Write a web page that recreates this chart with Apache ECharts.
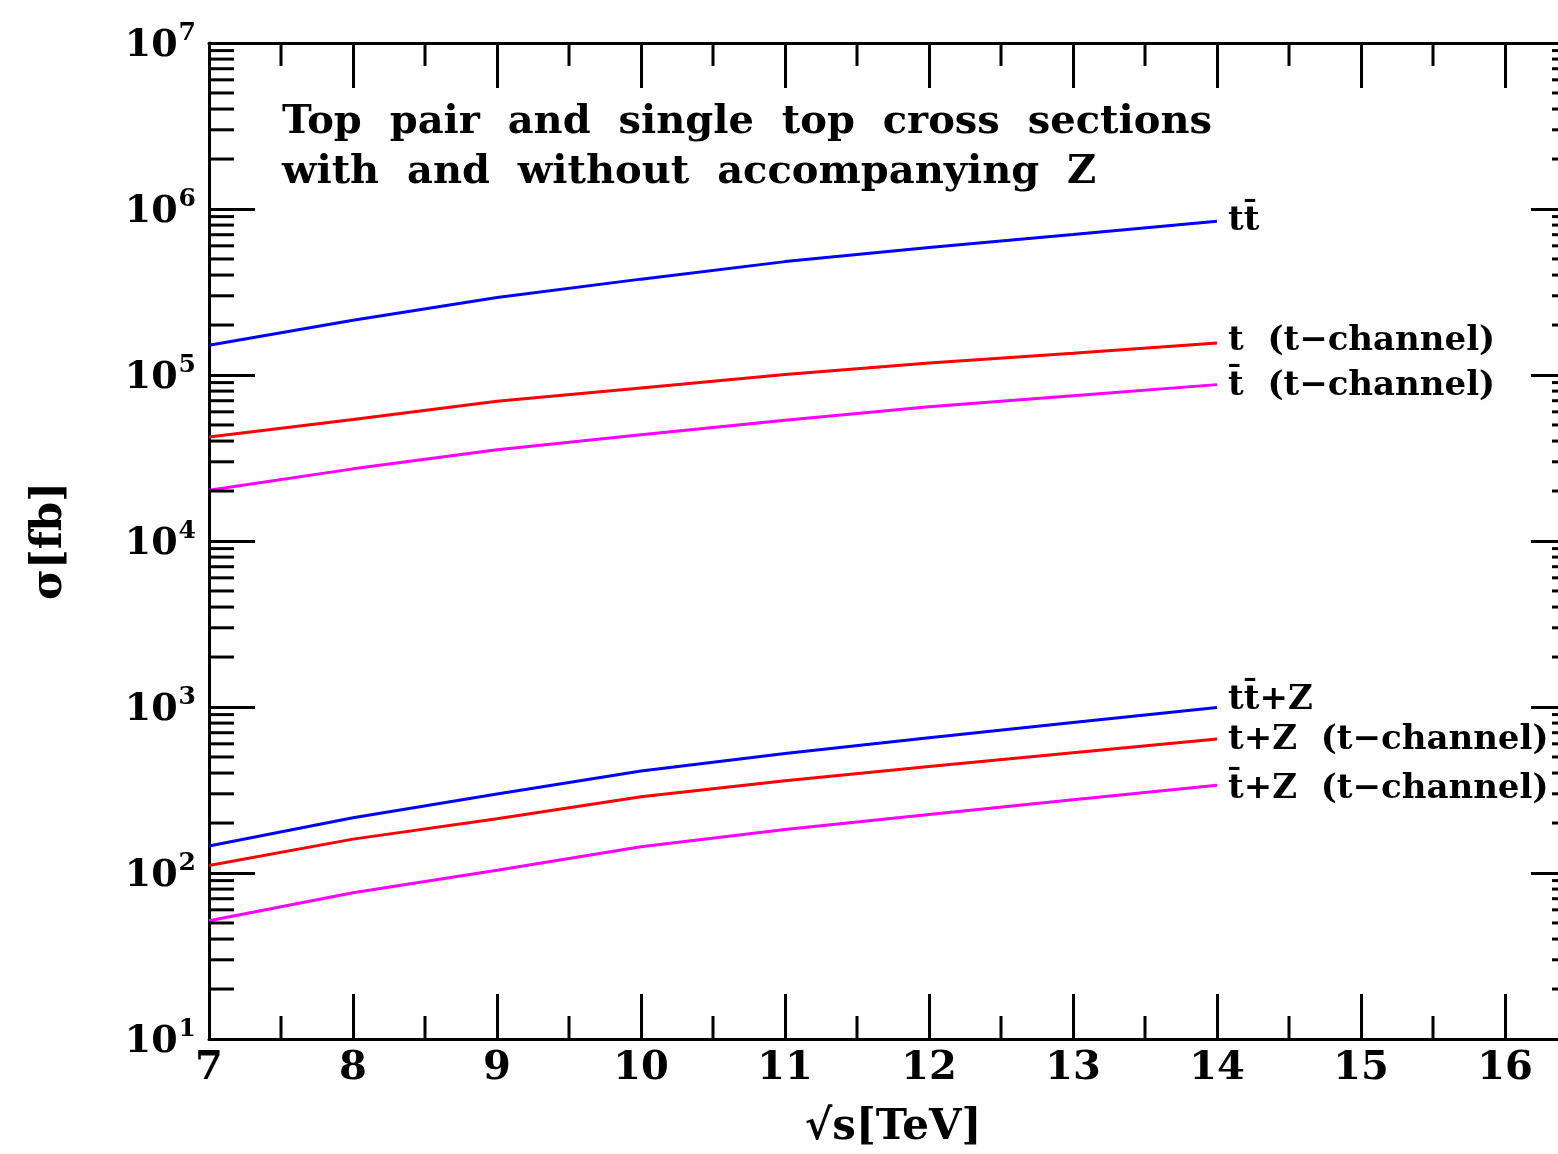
<!DOCTYPE html>
<html><head><meta charset="utf-8">
<script src="https://cdn.jsdelivr.net/npm/echarts@6/dist/echarts.min.js"></script>
<style>html,body{margin:0;padding:0;background:#fff;overflow:hidden;width:1558px;height:1154px}#c{width:1600px;height:1154px}</style>
</head><body><div id="c"></div>
<script>
const energies = [7, 8, 9, 10, 11, 12, 13, 14];
const ttbar      = [151000, 214000, 293000, 378000, 482000, 587000, 703000, 845000];
const tChan      = [42300, 54000, 69500, 83600, 100700, 118000, 135000, 156000];
const tbarChan   = [20200, 27200, 35500, 43700, 53300, 64400, 75000, 87500];
const ttbarZ     = [145.6, 215, 299, 411, 525, 653, 806, 993];
const tZ         = [111, 160, 212, 288, 359, 438, 530, 641];
const tbarZ      = [51.6, 76, 104, 144, 183, 225, 276, 338];
const seriesNames = ['tt\u0304', 't  (t\u2212channel)', 't\u0304  (t\u2212channel)', 'tt\u0304+Z', 't+Z  (t\u2212channel)', 't\u0304+Z  (t\u2212channel)'];
const seriesColors = ['#0000ff', '#ff0000', '#ff00ff', '#0000ff', '#ff0000', '#ff00ff'];
const labelShiftY = [0, -2, 2, -7, 1, 4];
const xMinorTicks = [7.5, 8.5, 9.5, 10.5, 11.5, 12.5, 13.5, 14.5, 15.5];
const yMinorMultipliers = [2, 3, 4, 5, 6, 7, 8, 9];
const yDecades = [10, 100, 1000, 10000, 100000, 1000000];
const titleLines = ['Top  pair  and  single  top  cross  sections', 'with  and  without  accompanying  Z'];

const FONT = 'DejaVu Serif';
const X_MIN = 7, X_MAX = 16.5, Y_MIN = 10, Y_MAX = 1e7;
const seriesData = [ttbar, tChan, tbarChan, ttbarZ, tZ, tbarZ];

const yMinorTicks = [];
yDecades.forEach(d => yMinorMultipliers.forEach(m => yMinorTicks.push(m * d)));

const chart = echarts.init(document.getElementById('c'), null, {renderer: 'canvas'});

const axisLine = {show: true, onZero: false, lineStyle: {color: '#000', width: 3}};
const majorTick = len => ({show: true, inside: true, length: len, lineStyle: {color: '#000', width: 3}});

const lineSeries = seriesData.map((arr, i) => ({
  type: 'line',
  name: seriesNames[i],
  data: energies.map((e, j) => [e, arr[j]]),
  showSymbol: false,
  symbol: 'none',
  lineStyle: {color: seriesColors[i], width: 3},
  itemStyle: {color: seriesColors[i]},
  z: 3,
  endLabel: {
    show: true,
    formatter: seriesNames[i],
    color: '#000',
    fontFamily: FONT,
    fontWeight: 'bold',
    fontSize: 34,
    distance: 11,
    offset: [0, labelShiftY[i]]
  }
}));

const minorSeries = {
  type: 'custom',
  silent: true,
  xAxisIndex: 0,
  yAxisIndex: 0,
  z: 5,
  clip: false,
  encode: {x: 0, y: 1},
  data: xMinorTicks.map(v => [v, Y_MIN, 0]).concat(yMinorTicks.map(v => [X_MIN, v, 1])),
  renderItem: function (params, api) {
    const kind = api.value(2);
    const st = {stroke: '#000', lineWidth: 3};
    if (kind === 0) {
      const b = api.coord([api.value(0), Y_MIN]);
      const t = api.coord([api.value(0), Y_MAX]);
      return {type: 'group', children: [
        {type: 'line', shape: {x1: b[0], y1: b[1], x2: b[0], y2: b[1] - 23}, style: st},
        {type: 'line', shape: {x1: t[0], y1: t[1], x2: t[0], y2: t[1] + 23}, style: st}
      ]};
    } else {
      const l = api.coord([X_MIN, api.value(1)]);
      const r = api.coord([X_MAX, api.value(1)]);
      return {type: 'group', children: [
        {type: 'line', shape: {x1: l[0], y1: l[1], x2: l[0] + 25, y2: l[1]}, style: st},
        {type: 'line', shape: {x1: r[0], y1: r[1], x2: r[0] - 25, y2: r[1]}, style: st}
      ]};
    }
  }
};

const option = {
  animation: false,
  backgroundColor: '#fff',
  textStyle: {fontFamily: FONT},
  title: {
    text: titleLines.join('\n'),
    left: 277, top: 93,
    textStyle: {fontFamily: FONT, fontWeight: 'bold', fontSize: 40, lineHeight: 50, color: '#000'}
  },
  grid: {left: 209, top: 43, right: 23, bottom: 112, containLabel: false},
  xAxis: [{
    type: 'value', min: X_MIN, max: X_MAX, interval: 1, position: 'bottom',
    axisLine: axisLine, axisTick: majorTick(45), splitLine: {show: false},
    axisLabel: {
      fontFamily: FONT, fontWeight: 'bold', fontSize: 40, color: '#000', margin: 10,
      formatter: v => (Number.isInteger(v) ? String(v) : '')
    },
    name: '\u221As[TeV]', nameLocation: 'middle', nameGap: 68,
    nameTextStyle: {fontFamily: FONT, fontWeight: 'bold', fontSize: 42, color: '#000'}
  }, {
    type: 'value', min: X_MIN, max: X_MAX, interval: 1, position: 'top',
    axisLine: axisLine, axisTick: majorTick(45), splitLine: {show: false},
    axisLabel: {show: false}
  }],
  yAxis: [{
    type: 'log', logBase: 10, min: Y_MIN, max: Y_MAX, position: 'left',
    axisLine: axisLine, axisTick: majorTick(46), splitLine: {show: false},
    axisLabel: {
      color: '#000', margin: 13,
      formatter: v => '{b|10}{s|' + Math.round(Math.log10(v)) + '}',
      rich: {
        b: {fontFamily: FONT, fontSize: 38, fontWeight: 'bold', color: '#000', lineHeight: 44, verticalAlign: 'bottom'},
        s: {fontFamily: FONT, fontSize: 25, fontWeight: 'bold', color: '#000', lineHeight: 44, verticalAlign: 'top', padding: [0, 0, 0, 1]}
      }
    },
    name: '\u03C3[fb]', nameLocation: 'middle', nameGap: 138,
    nameTextStyle: {fontFamily: FONT, fontWeight: 'bold', fontSize: 42, color: '#000'}
  }, {
    type: 'log', logBase: 10, min: Y_MIN, max: Y_MAX, position: 'right',
    axisLine: axisLine, axisTick: majorTick(46), splitLine: {show: false},
    axisLabel: {show: false}
  }],
  series: lineSeries.concat([minorSeries])
};
chart.setOption(option);
</script>
</body></html>
